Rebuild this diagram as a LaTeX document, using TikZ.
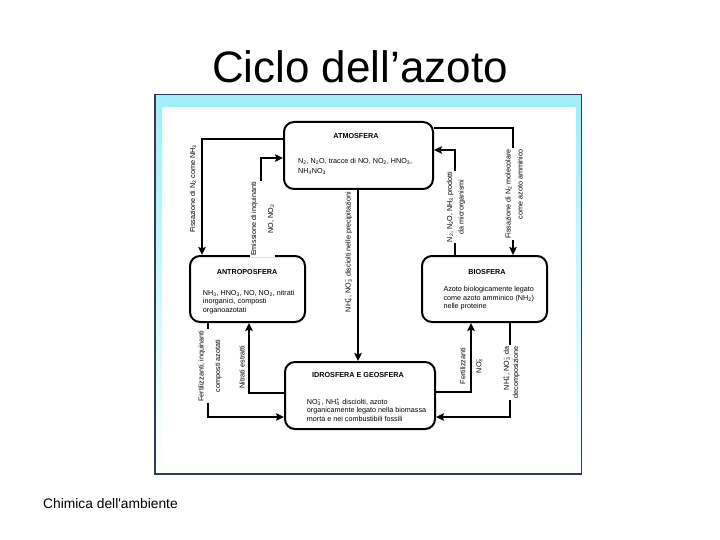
\documentclass[tikz,border=0pt]{standalone}
\usepackage{fontspec}
\setmainfont{Liberation Sans}
\usetikzlibrary{arrows.meta}
\definecolor{bandcyan}{HTML}{A2EEF9}
\definecolor{framenavy}{HTML}{2E3A56}
\newcommand\sbs[1]{\textsubscript{#1}}
\newcommand\ionc[2]{\rlap{\textsuperscript{#2}}\textsubscript{#1}\hspace{0.12em}}
\begin{document}
\begin{tikzpicture}[x=1pt,y=-1pt,
  box/.style={draw=black, line width=2pt, rounded corners=10pt, inner sep=0pt, fill=white},
  ttl/.style={font=\fontsize{7.2}{8.4}\selectfont\bfseries, inner sep=0pt},
  body/.style={font=\fontsize{7.2}{8.4}\selectfont, align=left, inner sep=0pt, anchor=west},
  lab/.style={font=\fontsize{7.2}{8.4}\selectfont, rotate=90, inner sep=1pt},
  labw/.style={lab, fill=white},
  arr/.style={line width=1.8pt, -{Stealth[length=8pt,width=7.5pt,inset=1.5pt]}},
  ]
% background and bounding box
\fill[white] (0,0) rectangle (720,540);
\useasboundingbox (0,0) rectangle (720,540);

% slide frame
\fill[bandcyan] (155,94.5) rectangle (581.5,107.5);
\shade[top color=bandcyan, bottom color=white] (155,107.5) rectangle (162,474);
\shade[top color=bandcyan, bottom color=white] (576,107.5) rectangle (581.5,474);
\draw[framenavy, line width=1.2pt] (155,94.5) rectangle (581.5,474);

% title and footer
\node[font=\fontsize{44}{50}\selectfont, anchor=base, inner sep=0pt] (title) at (360,83) {Ciclo dell’azoto};
\node[font=\fontsize{13.8}{16}\selectfont, anchor=base west, inner sep=0pt] (foot) at (43,508) {Chimica dell\textquotesingle ambiente};

% boxes
\node[box, minimum width=149pt, minimum height=67pt] (ATM) at (358.5,155.5) {};
\node[box, minimum width=115pt, minimum height=66pt] (ANT) at (247.5,289) {};
\node[box, minimum width=125pt, minimum height=66pt] (BIO) at (484.5,289) {};
\node[box, minimum width=150pt, minimum height=67pt] (IDR) at (360,395.5) {};

% box texts
\node[ttl] (ATMt) at (356,136) {ATMOSFERA};
\node[body] (ATMb) at (298,166.5) {N\sbs{2}, N\sbs{2}O, tracce di NO, NO\sbs{2}, HNO\sbs{3},\\[1.4pt]NH\sbs{4}NO\sbs{3}};
\node[ttl] (ANTt) at (247,271.7) {ANTROPOSFERA};
\node[body] (ANTb) at (202.7,302) {NH\sbs{3}, HNO\sbs{3}, NO, NO\sbs{2}, nitrati\\inorganici, composti\\organoazotati};
\node[ttl] (BIOt) at (487,272.3) {BIOSFERA};
\node[body] (BIOb) at (443.3,298.5) {Azoto biologicamente legato\\come azoto amminico (NH\sbs{2})\\nelle proteine};
\node[ttl] (IDRt) at (358,375) {IDROSFERA E GEOSFERA};
\node[body] (IDRb) at (306.7,410) {NO\ionc{3}{−}, NH\ionc{4}{+} disciolti, azoto\\organicamente legato nella biomassa\\morta e nei combustibili fossili};

% connectors
\draw[arr] (ATM.west|-0,139) -| (ANT.north-|202,0);
\draw[arr] (ANT.north-|261,0) |- (ATM.west|-0,158);
\draw[arr] (ATM.south-|358,0) -- (IDR.north-|358,0);
\draw[arr] (BIO.north-|455,0) |- (ATM.east|-0,150);
\draw[arr] (ATM.east|-0,128) -| (BIO.north-|513,0);
\draw[arr] (ANT.south-|208,0) |- (IDR.west|-0,417);
\draw[arr] (IDR.west|-0,393) -| (ANT.south-|249,0);
\draw[arr] (IDR.east|-0,392) -| (BIO.south-|471,0);
\draw[arr] (BIO.south-|510,0) |- (IDR.east|-0,417);

% connector labels
\node[lab] (l1) at (193,189) {Fissazione di N\sbs{2} come NH\sbs{3}};
\node[labw, align=center] (l2) at (262.5,219) {Emissione di inquinanti\\[8.6pt]NO, NO\sbs{2}};
\node[lab] (l3) at (348.5,252) {NH\ionc{4}{+}, NO\ionc{3}{−} disciolti nelle precipitazioni};
\node[labw, align=center] (l4) at (456,207) {N\sbs{2}, N\sbs{2}O, NH\sbs{3} prodotti\\[3.3pt]da microrganismi};
\node[labw, align=right] (l5) at (514,194) {Fissazione di N\sbs{2} molecolare\\[3.6pt]come azoto amminico};
\node[labw, align=center] (l6) at (210,366) {Fertilizzanti, inquinanti\\[8.2pt]composti azotati};
\node[lab] (l7) at (242,367) {Nitrati estratti};
\node[lab, align=center] (l8) at (471.3,366) {Fertilizzanti\\[7.6pt]NO\ionc{3}{−}};
\node[labw, align=right] (l9) at (511.3,372.5) {NH\ionc{4}{+}, NO\ionc{3}{−} da\\[0.9pt]decomposizione};
\end{tikzpicture}
\end{document}
